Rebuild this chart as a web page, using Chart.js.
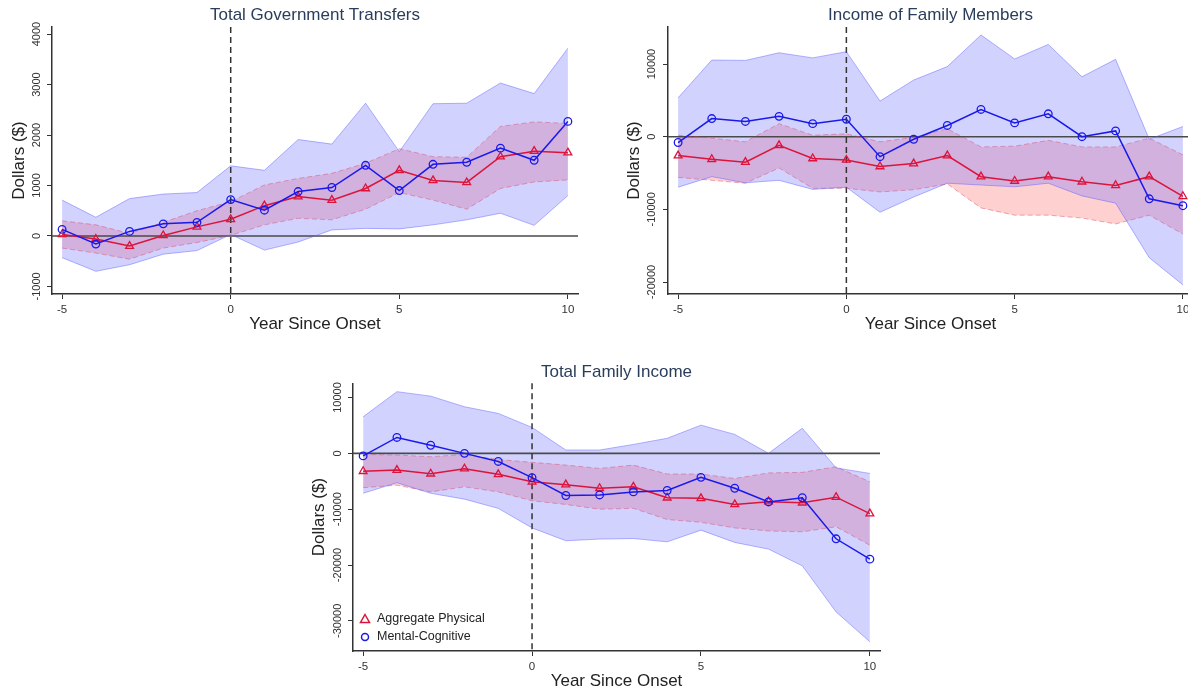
<!DOCTYPE html>
<html>
<head>
<meta charset="utf-8">
<script src="https://cdn.jsdelivr.net/npm/chart.js@4.4.0/dist/chart.umd.min.js"></script>
<style>
  body { margin: 0; width: 1188px; height: 692px; overflow: hidden; background: #fff; position: relative; }
  .panel { position: absolute; }
</style>
</head>
<body>
<div class="panel" style="left:0;top:0;width:600px;height:340px"><canvas id="gov"></canvas></div>
<div class="panel" style="left:610px;top:0;width:600px;height:340px"><canvas id="mem"></canvas></div>
<div class="panel" style="left:295px;top:352px;width:610px;height:340px"><canvas id="tot"></canvas></div>
<script>
const years = [-5, -4, -3, -2, -1, 0, 1, 2, 3, 4, 5, 6, 7, 8, 9, 10];
const xTicks = [-5, 0, 5, 10];

// Total Government Transfers
const govPhys   = [30, -60, -200, 10, 180, 330, 600, 780, 710, 940, 1300, 1100, 1060, 1570, 1680, 1650];
const govPhysLo = [-240, -340, -460, -240, -130, 10, 220, 350, 320, 530, 860, 710, 530, 940, 1070, 1110];
const govPhysHi = [300, 220, 50, 270, 500, 680, 1010, 1140, 1240, 1440, 1730, 1570, 1560, 2170, 2260, 2230];
const govMent   = [130, -160, 90, 240, 270, 720, 510, 880, 960, 1400, 900, 1420, 1460, 1740, 1500, 2270];
const govMentLo = [-430, -700, -570, -360, -290, 30, -280, -120, 120, 150, 140, 220, 320, 450, 210, 800];
const govMentHi = [710, 370, 740, 830, 860, 1390, 1300, 1910, 1820, 2630, 1670, 2620, 2630, 3030, 2820, 3720];
const govYTicks = [4000, 3000, 2000, 1000, 0, -1000];

// Income of Family Members
const memPhys   = [-2600, -3100, -3500, -1200, -3000, -3200, -4100, -3700, -2600, -5500, -6100, -5500, -6200, -6700, -5500, -8200];
const memPhysLo = [-5600, -6000, -6400, -4300, -7100, -7100, -7600, -7300, -6500, -9800, -10800, -10800, -11200, -12000, -10800, -13400];
const memPhysHi = [200, -200, -700, 1800, 200, 400, -700, -100, 1100, -1400, -1300, -500, -1400, -1400, -200, -2500];
const memMent   = [-800, 2500, 2100, 2800, 1800, 2400, -2750, -350, 1550, 3750, 1900, 3150, 0, 800, -8550, -9500];
const memMentLo = [-6950, -5500, -6350, -6000, -7250, -6950, -10400, -8300, -6400, -6650, -6900, -6400, -8150, -9150, -16650, -20400];
const memMentHi = [5350, 10550, 10500, 11550, 10850, 11700, 4900, 7800, 9650, 14000, 10700, 12700, 8250, 10650, -350, 1400];
const memYTicks = [10000, 0, -10000, -20000];

// Total Family Income
const totPhys   = [-3200, -3000, -3650, -2750, -3750, -5100, -5600, -6250, -6000, -7950, -8050, -9150, -8650, -8850, -7850, -10800];
const totPhysLo = [-6150, -5700, -6900, -6000, -6900, -8500, -9150, -10000, -9850, -11850, -12350, -13350, -13900, -14050, -13150, -16450];
const totPhysHi = [-200, -300, -600, -200, -1100, -1600, -2100, -2700, -2100, -3700, -3700, -4500, -3500, -3400, -2400, -5100];
const totMent   = [-450, 2850, 1450, 0, -1450, -4350, -7550, -7450, -6900, -6650, -4300, -6250, -8700, -7950, -15300, -18950];
const totMentLo = [-7150, -5250, -7150, -8200, -9850, -13350, -15650, -15350, -15250, -15850, -13750, -15950, -17150, -20150, -28400, -33750];
const totMentHi = [6550, 11050, 10250, 8350, 7150, 4650, 600, 600, 1600, 2700, 5050, 3400, 0, 4500, -2600, -3600];
const totYTicks = [10000, 0, -10000, -20000, -30000];

const FONT = "'Liberation Sans', Arial, sans-serif";
const RED = 'rgb(220, 20, 60)';
const BLUE = 'rgb(25, 25, 235)';

const pts = (arr) => arr.map((v, i) => ({ x: years[i], y: v }));

// zero line + dashed onset line
const refLines = {
  id: 'refLines',
  beforeDatasetsDraw(chart) {
    const { ctx, chartArea: a, scales: { x, y } } = chart;
    const y0 = y.getPixelForValue(0);
    const x0 = x.getPixelForValue(0);
    ctx.save();
    ctx.strokeStyle = '#4a4a4a';
    ctx.lineWidth = 1.6;
    ctx.beginPath(); ctx.moveTo(a.left, y0); ctx.lineTo(a.right, y0); ctx.stroke();
    ctx.strokeStyle = '#333';
    ctx.lineWidth = 1.5;
    ctx.setLineDash([6, 4]);
    ctx.beginPath(); ctx.moveTo(x0, a.top); ctx.lineTo(x0, a.bottom); ctx.stroke();
    ctx.restore();
  }
};

// legend inside the plot, bottom left
const insideLegend = {
  id: 'insideLegend',
  afterDraw(chart, args, opts) {
    if (!opts.show) return;
    const { ctx, chartArea: a } = chart;
    const items = chart.data.datasets.filter(d => d.legend);
    ctx.save();
    ctx.font = '12.5px ' + FONT;
    ctx.textBaseline = 'middle';
    items.forEach((d, i) => {
      const mx = a.left + 12, my = a.bottom - 32 + i * 18;
      ctx.strokeStyle = d.borderColor;
      ctx.lineWidth = 1.5;
      ctx.beginPath();
      if (d.pointStyle === 'triangle') {
        ctx.moveTo(mx, my - 4.5); ctx.lineTo(mx + 4.5, my + 3.5); ctx.lineTo(mx - 4.5, my + 3.5); ctx.closePath();
      } else {
        ctx.arc(mx, my, 3.5, 0, Math.PI * 2);
      }
      ctx.stroke();
      ctx.fillStyle = '#222';
      ctx.fillText(d.label, a.left + 24, my);
    });
    ctx.restore();
  }
};

function makePanel(id, title, phys, physLo, physHi, ment, mentLo, mentHi, yTicks, yMin, yMax, dims, legend) {
  const datasets = [
    { label: 'physHi', data: pts(physHi), fill: '+1', backgroundColor: 'rgba(255, 110, 110, 0.32)',
      borderColor: 'rgba(215, 70, 100, 0.45)', borderWidth: 1, borderDash: [5, 3], pointRadius: 0, order: 6 },
    { label: 'physLo', data: pts(physLo), fill: false,
      borderColor: 'rgba(215, 70, 100, 0.45)', borderWidth: 1, borderDash: [5, 3], pointRadius: 0, order: 6 },
    { label: 'mentHi', data: pts(mentHi), fill: '+1', backgroundColor: 'rgba(105, 105, 255, 0.3)',
      borderColor: 'rgba(90, 90, 255, 0.45)', borderWidth: 1, pointRadius: 0, order: 5 },
    { label: 'mentLo', data: pts(mentLo), fill: false,
      borderColor: 'rgba(90, 90, 255, 0.45)', borderWidth: 1, pointRadius: 0, order: 5 },
    { label: 'Aggregate Physical', legend: true, data: pts(phys), borderColor: RED, borderWidth: 1.5,
      pointStyle: 'triangle', pointRadius: 4.5, pointBorderWidth: 1.3, pointBackgroundColor: 'rgba(255,255,255,0)',
      fill: false, order: 2 },
    { label: 'Mental-Cognitive', legend: true, data: pts(ment), borderColor: BLUE, borderWidth: 1.5,
      pointStyle: 'circle', pointRadius: 3.8, pointBorderWidth: 1.3, pointBackgroundColor: 'rgba(255,255,255,0)',
      fill: false, order: 1 }
  ];
  return new Chart(document.getElementById(id), {
    type: 'line',
    data: { datasets },
    plugins: [refLines, insideLegend],
    options: {
      responsive: true,
      maintainAspectRatio: false,
      animation: false,
      layout: { padding: { left: 0, right: dims.right, top: 0, bottom: 0 } },
      elements: { line: { tension: 0 } },
      plugins: {
        legend: { display: false },
        tooltip: { enabled: false },
        filler: { drawTime: 'beforeDatasetsDraw' },
        insideLegend: { show: legend },
        title: {
          display: true, text: title, color: '#2a3d5a', fullSize: false,
          font: { family: FONT, size: 17, weight: 'normal' },
          padding: { top: dims.titleTop, bottom: dims.titleBottom }
        }
      },
      scales: {
        x: {
          type: 'linear', min: -5.3, max: 10.3,
          afterBuildTicks: (s) => { s.ticks = xTicks.map(v => ({ value: v })); },
          afterFit: (s) => { s.height = dims.xh; },
          ticks: { color: '#333', font: { family: FONT, size: 11.5 }, padding: 4, maxRotation: 0 },
          grid: { drawOnChartArea: false, drawTicks: true, tickLength: 5, color: '#333' },
          border: { color: '#333', width: 1.5 },
          title: { display: true, text: 'Year Since Onset', color: '#222',
                   font: { family: FONT, size: 17 }, padding: { top: 1, bottom: dims.xTitleBottom } }
        },
        y: {
          type: 'linear', min: yMin, max: yMax,
          afterBuildTicks: (s) => { s.ticks = yTicks.map(v => ({ value: v })); },
          afterFit: (s) => { s.width = dims.yw; },
          ticks: { color: '#333', font: { family: FONT, size: 11 }, padding: dims.yPad,
                   crossAlign: 'center', minRotation: 90, maxRotation: 90,
                   callback: (v) => String(v) },
          grid: { drawOnChartArea: false, drawTicks: true, tickLength: 5, color: '#333' },
          border: { color: '#333', width: 1.5 },
          title: { display: true, text: 'Dollars ($)', color: '#222',
                   font: { family: FONT, size: 17 }, padding: { top: dims.yTitleTop, bottom: 0 } }
        }
      }
    }
  });
}

makePanel('gov', 'Total Government Transfers', govPhys, govPhysLo, govPhysHi, govMent, govMentLo, govMentHi,
  govYTicks, -1150, 4140,
  { yw: 52, xh: 46, right: 22, titleTop: 5, titleBottom: 1.6, yPad: -4.5, yTitleTop: 9.5, xTitleBottom: 5 }, false);
makePanel('mem', 'Income of Family Members', memPhys, memPhysLo, memPhysHi, memMent, memMentLo, memMentHi,
  memYTicks, -21650, 15100,
  { yw: 58, xh: 46, right: 17, titleTop: 5, titleBottom: 1.6, yPad: -6.5, yTitleTop: 14.5, xTitleBottom: 5 }, false);
makePanel('tot', 'Total Family Income', totPhys, totPhysLo, totPhysHi, totMent, totMentLo, totMentHi,
  totYTicks, -35400, 12550,
  { yw: 58, xh: 41, right: 25, titleTop: 10, titleBottom: 0.9, yPad: -7, yTitleTop: 14, xTitleBottom: 0 }, true);
</script>
</body>
</html>
